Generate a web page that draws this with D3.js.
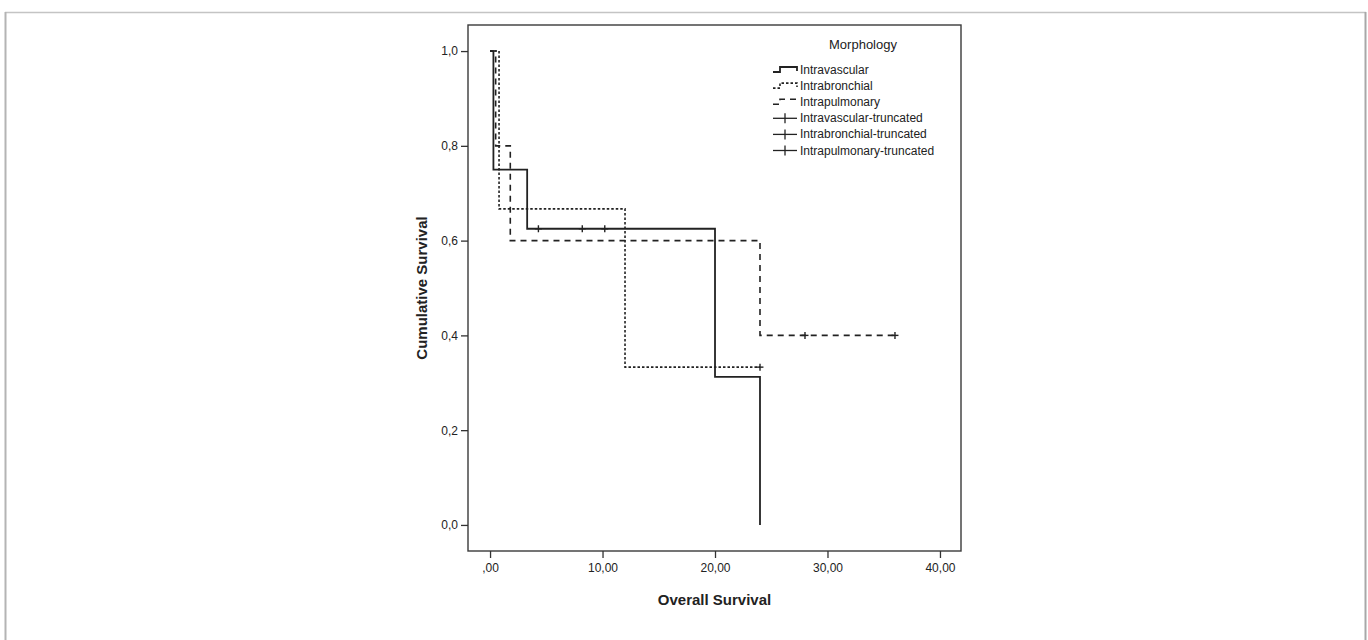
<!DOCTYPE html>
<html><head><meta charset="utf-8">
<script src="https://cdn.jsdelivr.net/npm/d3@7"></script>
<style>body{margin:0;background:#fff;} svg{display:block;} text{font-family:"Liberation Sans",Arial,sans-serif;fill:#222;}</style>
</head><body>
<svg id="chart" width="1368" height="640"></svg>
<script>
// ---- data ----
const seriesNames = ["Intravascular", "Intrabronchial", "Intrapulmonary"];
const legendLabels = ["Intravascular", "Intrabronchial", "Intrapulmonary",
  "Intravascular-truncated", "Intrabronchial-truncated", "Intrapulmonary-truncated"];
// Kaplan-Meier step points (time, cumulative survival)
const intravascularTime = [0, 0.3, 3.3, 20, 24];
const intravascularSurv = [1, 0.75, 0.625, 0.3125, 0];
const intrabronchialTime = [0, 0.8, 12, 24];
const intrabronchialSurv = [1, 0.667, 0.333, 0.333];
const intrapulmonaryTime = [0, 0.5, 1.8, 24, 36];
const intrapulmonarySurv = [1, 0.8, 0.6, 0.4, 0.4];
// censored (truncated) observations
const intravascularCensT = [4.3, 8.2, 10.2];
const intravascularCensS = [0.625, 0.625, 0.625];
const intrabronchialCensT = [24];
const intrabronchialCensS = [0.333];
const intrapulmonaryCensT = [28, 36];
const intrapulmonaryCensS = [0.4, 0.4];
const xTicks = [0, 10, 20, 30, 40];
const xTickLabels = [",00", "10,00", "20,00", "30,00", "40,00"];
const yTicks = [0, 0.2, 0.4, 0.6, 0.8, 1.0];
const yTickLabels = ["0,0", "0,2", "0,4", "0,6", "0,8", "1,0"];

// ---- layout ----
const svg = d3.select("#chart");
const L = 468, R = 961, T = 25, B = 551;
const x = d3.scaleLinear().domain([-1.96, 41.87]).range([L, R]);
const y = d3.scaleLinear().domain([-0.055, 1.055]).range([B, T]);

// outer frame
svg.append("line").attr("x1", 5).attr("x2", 1366).attr("y1", 12.5).attr("y2", 12.5).attr("stroke", "#c4c4c4").attr("stroke-width", 1.5);
svg.append("line").attr("x1", 5.5).attr("x2", 5.5).attr("y1", 12).attr("y2", 640).attr("stroke", "#b4b4b4").attr("stroke-width", 2);
svg.append("line").attr("x1", 1365.5).attr("x2", 1365.5).attr("y1", 12).attr("y2", 640).attr("stroke", "#a8a8a8").attr("stroke-width", 2);

// plot frame
svg.append("rect").attr("x", L).attr("y", T).attr("width", R - L).attr("height", B - T)
  .attr("fill", "none").attr("stroke", "#3a3a3a").attr("stroke-width", 1.4);

// axes
const xAxis = d3.axisBottom(x).tickValues(xTicks).tickSize(7).tickPadding(5)
  .tickFormat((d, i) => xTickLabels[i]);
const gx = svg.append("g").attr("transform", `translate(0,${B})`).call(xAxis);
gx.select(".domain").remove();
gx.selectAll("line").attr("stroke", "#333").attr("stroke-width", 1.3);
gx.selectAll("text").attr("font-size", 12).style("font-family", '"Liberation Sans",Arial,sans-serif').attr("fill", "#222");

const yAxis = d3.axisLeft(y).tickValues(yTicks).tickSize(7).tickPadding(3)
  .tickFormat((d, i) => yTickLabels[i]);
const gy = svg.append("g").attr("transform", `translate(${L},0)`).call(yAxis);
gy.select(".domain").remove();
gy.selectAll("line").attr("stroke", "#333").attr("stroke-width", 1.3);
gy.selectAll("text").attr("font-size", 12).style("font-family", '"Liberation Sans",Arial,sans-serif').attr("fill", "#222");

// axis titles
svg.append("text").attr("x", (L + R) / 2).attr("y", 605).attr("text-anchor", "middle")
  .attr("font-size", 15).attr("font-weight", "bold").text("Overall Survival");
svg.append("text").attr("transform", `translate(427,${(T + B) / 2}) rotate(-90)`).attr("text-anchor", "middle")
  .attr("font-size", 15).attr("font-weight", "bold").text("Cumulative Survival");

// series
const styles = [
  {dash: null, width: 1.8, color: "#222"},
  {dash: "2.5,2", width: 1.6, color: "#222"},
  {dash: "6,5", width: 1.6, color: "#222"}
];
const stepData = [
  intravascularTime.map((t, i) => [t, intravascularSurv[i]]),
  intrabronchialTime.map((t, i) => [t, intrabronchialSurv[i]]),
  intrapulmonaryTime.map((t, i) => [t, intrapulmonarySurv[i]])
];
const censData = [
  intravascularCensT.map((t, i) => [t, intravascularCensS[i]]),
  intrabronchialCensT.map((t, i) => [t, intrabronchialCensS[i]]),
  intrapulmonaryCensT.map((t, i) => [t, intrapulmonaryCensS[i]])
];
const line = d3.line().x(d => x(d[0])).y(d => y(d[1])).curve(d3.curveStepAfter);
stepData.forEach((pts, i) => {
  svg.append("path").attr("d", line(pts)).attr("fill", "none")
    .attr("stroke", styles[i].color).attr("stroke-width", styles[i].width)
    .attr("stroke-dasharray", styles[i].dash);
});
censData.forEach((pts, i) => {
  pts.forEach(p => {
    const cx = x(p[0]), cy = y(p[1]);
    svg.append("line").attr("x1", cx).attr("x2", cx).attr("y1", cy - 3.5).attr("y2", cy + 3.5)
      .attr("stroke", "#222").attr("stroke-width", 1.4);
    svg.append("line").attr("x1", cx - 3.5).attr("x2", cx + 3.5).attr("y1", cy).attr("y2", cy)
      .attr("stroke", "#222").attr("stroke-width", 1.4);
  });
});

// legend
svg.append("text").attr("x", 863).attr("y", 49).attr("text-anchor", "middle").attr("font-size", 13).text("Morphology");
const ly0 = 70, ldy = 16.1, lx0 = 773, lx1 = 797;
legendLabels.forEach((lab, i) => {
  const cy = ly0 + i * ldy;
  if (i < 3) {
    const p = d3.path();
    p.moveTo(lx0, cy + 2); p.lineTo(lx0 + 7, cy + 2); p.lineTo(lx0 + 7, cy - 3);
    p.lineTo(lx1, cy - 3); p.lineTo(lx1, cy + 1);
    svg.append("path").attr("d", p.toString()).attr("fill", "none").attr("stroke", "#222")
      .attr("stroke-width", styles[i].width).attr("stroke-dasharray", styles[i].dash);
  } else {
    svg.append("line").attr("x1", lx0).attr("x2", lx1).attr("y1", cy).attr("y2", cy).attr("stroke", "#222").attr("stroke-width", 1.3);
    svg.append("line").attr("x1", (lx0 + lx1) / 2).attr("x2", (lx0 + lx1) / 2).attr("y1", cy - 5).attr("y2", cy + 5).attr("stroke", "#222").attr("stroke-width", 1.3);
  }
  svg.append("text").attr("x", 800).attr("y", cy + 4).attr("font-size", 12).text(lab);
});
</script>
</body></html>
